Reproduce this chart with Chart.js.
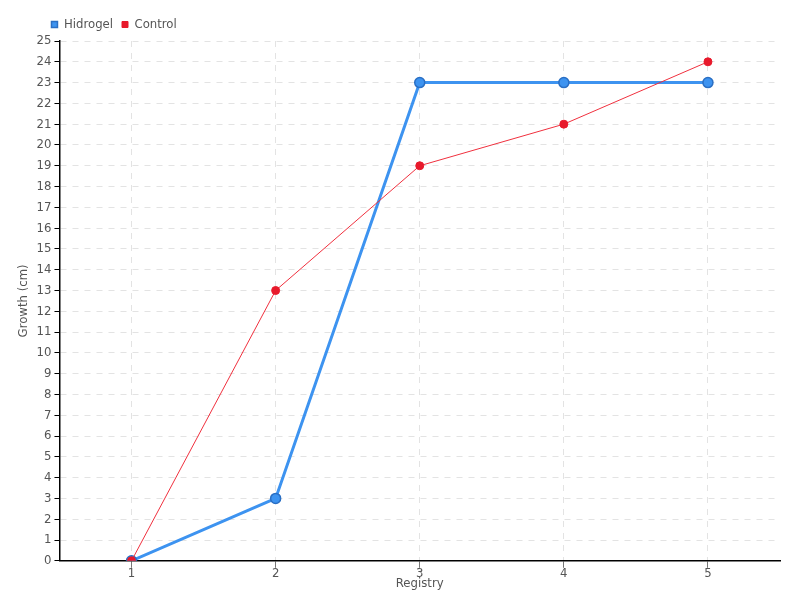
<!DOCTYPE html>
<html>
<head>
  <title>Growth chart</title>
  <script src="https://cdn.jsdelivr.net/npm/chart.js"></script>
  <style>
    body { margin: 0; background: #fff; }
    #wrap { width: 800px; height: 600px; }
  </style>
</head>
<body>
  <div id="wrap"><canvas id="growthChart" width="800" height="600"></canvas></div>
  <script>
    const registries = ['1', '2', '3', '4', '5'];
    const hidrogel = [0, 3, 23, 23, 23];
    const control = [0, 13, 19, 21, 24];

    const font = { family: '"DejaVu Sans Condensed", sans-serif', size: 13 };

    // nudge the legend a bit to the left, like the original
    const legendShift = {
      id: 'legendShift',
      afterLayout(chart) {
        chart.legend.left -= 17;
        chart.legend.right -= 17;
      }
    };

    new Chart(document.getElementById('growthChart'), {
      type: 'line',
      data: {
        labels: registries,
        datasets: [{
          label: 'Hidrogel',
          data: hidrogel,
          borderColor: '#3d93f0',
          backgroundColor: '#3d93f0',
          pointBackgroundColor: '#3d93f0',
          pointBorderColor: '#2a6fc4',
          borderWidth: 3,
          pointRadius: 5,
          pointBorderWidth: 1.5,
          tension: 0,
          order: 1
        }, {
          label: 'Control',
          data: control,
          borderColor: '#f0303e',
          backgroundColor: '#e8192b',
          pointBackgroundColor: '#e8192b',
          pointBorderColor: '#e8192b',
          borderWidth: 1,
          pointRadius: 4,
          tension: 0,
          order: 0
        }]
      },
      options: {
        responsive: false,
        animation: false,
        layout: { padding: { left: 14, right: 20, top: 9, bottom: 9 } },
        plugins: {
          legend: {
            align: 'start',
            fullSize: false,
            labels: {
              usePointStyle: true,
              pointStyle: 'rect',
              boxWidth: 6,
              boxHeight: 6,
              padding: 9,
              color: '#555',
              font: font,
              sort: (a, b) => a.datasetIndex - b.datasetIndex
            }
          },
          tooltip: { enabled: false }
        },
        scales: {
          x: {
            offset: true,
            border: { color: '#000', width: 1.5, dash: [6, 6] },
            grid: { color: '#e3e3e3', tickColor: '#777', tickLength: 7, offset: false },
            ticks: { color: '#555', font: font, padding: -2 },
            title: { display: true, text: 'Registry', color: '#555', font: font, padding: { top: -4, bottom: 0 } }
          },
          y: {
            min: 0,
            max: 25,
            border: { color: '#000', width: 1.5, dash: [6, 6] },
            grid: { color: '#e3e3e3', tickColor: '#000', tickLength: 5 },
            ticks: { stepSize: 1, color: '#555', font: font, padding: 3 },
            title: { display: true, text: 'Growth (cm)', color: '#555', font: font, padding: 2 }
          }
        }
      },
      plugins: [legendShift]
    });
  </script>
</body>
</html>
